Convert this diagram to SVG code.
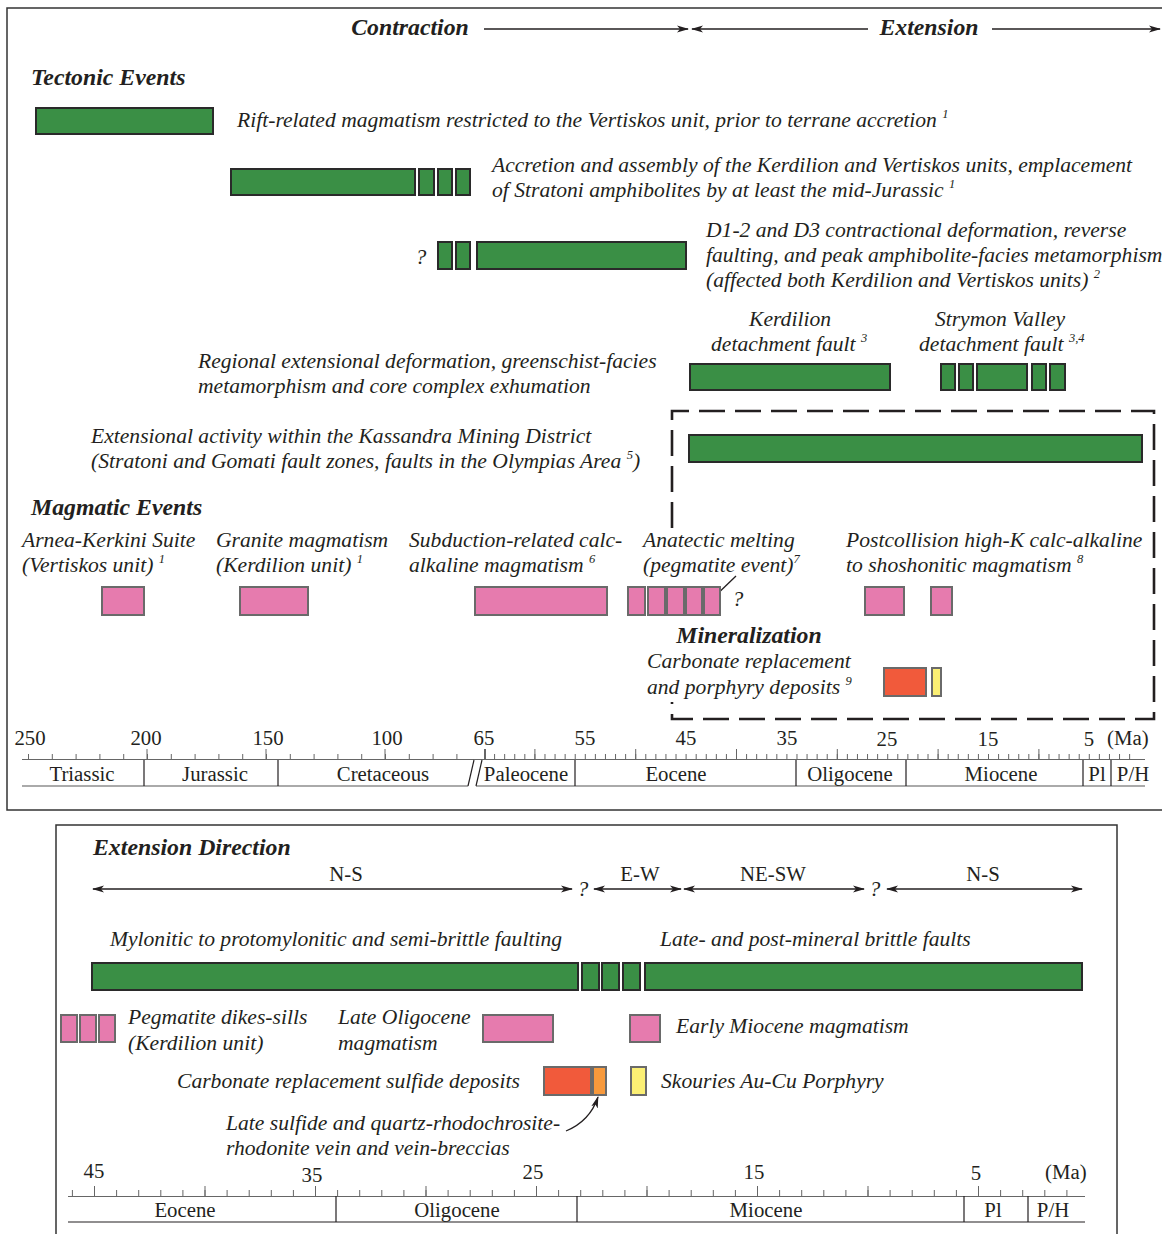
<svg xmlns="http://www.w3.org/2000/svg" width="1162" height="1234" viewBox="0 0 1162 1234">
<style>
text{font-family:"Liberation Serif","Times New Roman",serif;fill:#231f20}
.t{font-style:italic;font-size:21.6px}
.h{font-style:italic;font-weight:bold;font-size:23.8px}
.a{font-size:20.8px}
.m{text-anchor:middle}
.sup{font-size:12.5px}
.g{fill:#3a8f45;stroke:#2a2a2a;stroke-width:2}
.p{fill:#e67bae;stroke:#6a6a6a;stroke-width:2}
.r{fill:#f15a3b;stroke:#6a6a6a;stroke-width:2}
.y{fill:#fbef74;stroke:#6a6a6a;stroke-width:2}
.o{fill:#f7993c;stroke:#6a6a6a;stroke-width:2}
.frame{fill:none;stroke:#333;stroke-width:1.5}
.ln{stroke:#231f20;stroke-width:1.3;fill:none}
.div{stroke:#231f20;stroke-width:1.2}
.base{stroke:#aaa;stroke-width:2}
.tk{stroke:#666;fill:none}
.dash{fill:none;stroke:#231f20;stroke-width:2.6;stroke-dasharray:26 10}
</style>
<defs>
<marker id="ah" viewBox="0 0 12 8" markerWidth="12" markerHeight="8" refX="11" refY="4" orient="auto-start-reverse" markerUnits="userSpaceOnUse">
<path d="M0,0.6 L12,4 L0,7.4 L3,4 z" fill="#231f20"/>
</marker>
</defs>

<rect class="frame" x="7" y="8" width="1170" height="802"/>
<rect class="frame" x="56" y="825" width="1061" height="430"/>

<g id="connectors">
<line class="ln" x1="484" y1="29" x2="688" y2="29" marker-end="url(#ah)"/>
<line class="ln" x1="868" y1="29" x2="692" y2="29" marker-end="url(#ah)"/>
<line class="ln" x1="992" y1="29" x2="1160" y2="29" marker-end="url(#ah)"/>
<line class="ln" x1="736" y1="576" x2="711" y2="600" marker-end="url(#ah)"/>
<line class="ln" x1="93" y1="889" x2="572" y2="889" marker-start="url(#ah)" marker-end="url(#ah)"/>
<line class="ln" x1="594" y1="889" x2="681" y2="889" marker-start="url(#ah)" marker-end="url(#ah)"/>
<line class="ln" x1="684" y1="889" x2="864" y2="889" marker-start="url(#ah)" marker-end="url(#ah)"/>
<line class="ln" x1="887" y1="889" x2="1082" y2="889" marker-start="url(#ah)" marker-end="url(#ah)"/>
<path class="ln" d="M566 1131 Q590 1121 598 1097" marker-end="url(#ah)"/>
</g>

<g id="headers">
<text class="h" x="410" y="35" text-anchor="middle">Contraction</text>
<text class="h" x="929" y="35" text-anchor="middle">Extension</text>
<text class="h" x="31" y="85">Tectonic Events</text>
<text class="h" x="31" y="515">Magmatic Events</text>
<text class="h" x="749" y="643" text-anchor="middle">Mineralization</text>
<text class="h" x="93" y="855">Extension Direction</text>
</g>

<g id="rift">
<rect class="g" x="36" y="108" width="177" height="26"/>
<text class="t" x="237" y="127">Rift-related magmatism restricted to the Vertiskos unit, prior to terrane accretion <tspan class="sup" dy="-9">1</tspan></text>
</g>

<g id="accretion">
<rect class="g" x="231" y="169" width="184" height="26"/>
<rect class="g" x="419" y="169" width="15" height="26"/>
<rect class="g" x="438" y="169" width="14" height="26"/>
<rect class="g" x="456" y="169" width="14" height="26"/>
<text class="t" x="492" y="172">Accretion and assembly of the Kerdilion and Vertiskos units, emplacement</text>
<text class="t" x="492" y="197">of Stratoni amphibolites by at least the mid-Jurassic <tspan class="sup" dy="-9">1</tspan></text>
</g>

<g id="contraction-deformation">
<text class="t" x="421" y="264" text-anchor="middle">?</text>
<rect class="g" x="438" y="242" width="14" height="27"/>
<rect class="g" x="456" y="242" width="14" height="27"/>
<rect class="g" x="477" y="242" width="209" height="27"/>
<text class="t" x="706" y="237">D1-2 and D3 contractional deformation, reverse</text>
<text class="t" x="706" y="262">faulting, and peak amphibolite-facies metamorphism</text>
<text class="t" x="706" y="287">(affected both Kerdilion and Vertiskos units) <tspan class="sup" dy="-9">2</tspan></text>
</g>

<g id="regional-extension">
<text class="t" x="198" y="368">Regional extensional deformation, greenschist-facies</text>
<text class="t" x="198" y="393">metamorphism and core complex exhumation</text>
</g>

<g id="kerdilion-detachment">
<text class="t" x="790" y="326" text-anchor="middle">Kerdilion</text>
<text class="t" x="711" y="351">detachment fault <tspan class="sup" dy="-9">3</tspan></text>
<rect class="g" x="690" y="364" width="200" height="26"/>
</g>

<g id="strymon-detachment">
<text class="t" x="1000" y="326" text-anchor="middle">Strymon Valley</text>
<text class="t" x="919" y="351">detachment fault <tspan class="sup" dy="-9">3,4</tspan></text>
<rect class="g" x="941" y="364" width="14" height="26"/>
<rect class="g" x="959" y="364" width="14" height="26"/>
<rect class="g" x="977" y="364" width="50" height="26"/>
<rect class="g" x="1032" y="364" width="14" height="26"/>
<rect class="g" x="1050" y="364" width="15" height="26"/>
</g>

<g id="kassandra">
<text class="t" x="91" y="443">Extensional activity within the Kassandra Mining District</text>
<text class="t" x="91" y="468">(Stratoni and Gomati fault zones, faults in the Olympias Area <tspan class="sup" dy="-9">5</tspan><tspan dy="9">)</tspan></text>
<rect class="g" x="689" y="435" width="453" height="27"/>
</g>

<path id="kassandra-box" class="dash" d="M672 528 V411 H1154 V719 H672 V702"/>

<g id="arnea">
<text class="t" x="22" y="547">Arnea-Kerkini Suite</text>
<text class="t" x="22" y="572">(Vertiskos unit) <tspan class="sup" dy="-9">1</tspan></text>
<rect class="p" x="102" y="587" width="42" height="28"/>
</g>

<g id="granite">
<text class="t" x="216" y="547">Granite magmatism</text>
<text class="t" x="216" y="572">(Kerdilion unit) <tspan class="sup" dy="-9">1</tspan></text>
<rect class="p" x="240" y="587" width="68" height="28"/>
</g>

<g id="subduction">
<text class="t" x="409" y="547">Subduction-related calc-</text>
<text class="t" x="409" y="572">alkaline magmatism <tspan class="sup" dy="-9">6</tspan></text>
<rect class="p" x="475" y="587" width="132" height="28"/>
</g>

<g id="anatectic">
<text class="t" x="643" y="547">Anatectic melting</text>
<text class="t" x="643" y="572">(pegmatite event)<tspan class="sup" dy="-9">7</tspan></text>
<rect class="p" x="628" y="587" width="17" height="28"/>
<rect class="p" x="648" y="587" width="17" height="28"/>
<rect class="p" x="667" y="587" width="17" height="28"/>
<rect class="p" x="686" y="587" width="16" height="28"/>
<rect class="p" x="704" y="587" width="16" height="28"/>
<text class="t" x="738" y="606" text-anchor="middle">?</text>
</g>

<g id="postcollision">
<text class="t" x="846" y="547">Postcollision high-K calc-alkaline</text>
<text class="t" x="846" y="572">to shoshonitic magmatism <tspan class="sup" dy="-9">8</tspan></text>
<rect class="p" x="865" y="587" width="39" height="28"/>
<rect class="p" x="931" y="587" width="21" height="28"/>
</g>

<g id="mineralization">
<text class="t" x="647" y="668">Carbonate replacement</text>
<text class="t" x="647" y="694">and porphyry deposits <tspan class="sup" dy="-9">9</tspan></text>
<rect class="r" x="884" y="668" width="42" height="28"/>
<rect class="y" x="932" y="668" width="9" height="28"/>
</g>

<g id="top-axis">
<text class="a m" x="30" y="745">250</text>
<text class="a m" x="146" y="745">200</text>
<text class="a m" x="268" y="745">150</text>
<text class="a m" x="387" y="745">100</text>
<text class="a m" x="484" y="745">65</text>
<text class="a m" x="585" y="745">55</text>
<text class="a m" x="686" y="745">45</text>
<text class="a m" x="787" y="745">35</text>
<text class="a m" x="887" y="746">25</text>
<text class="a m" x="988" y="746">15</text>
<text class="a m" x="1089" y="746">5</text>
<text class="a" x="1107" y="745">(Ma)</text>
<line class="tk" x1="22" y1="759.5" x2="1145" y2="759.5" stroke-width="1"/>
<line class="tk" x1="28" y1="756.5" x2="462" y2="756.5" stroke-width="5" stroke-dasharray="1 22.8"/>
<line class="tk" x1="146.5" y1="754" x2="400" y2="754" stroke-width="10" stroke-dasharray="1 118"/>
<line class="tk" x1="484" y1="756.5" x2="1135" y2="756.5" stroke-width="5" stroke-dasharray="1 9.08"/>
<line class="tk" x1="484" y1="754" x2="486" y2="754" stroke-width="10"/>
<line class="tk" x1="534.4" y1="754" x2="1045" y2="754" stroke-width="10" stroke-dasharray="1 99.8"/>
<line class="base" x1="22" y1="786" x2="468" y2="786"/>
<line class="base" x1="476" y1="786" x2="1145" y2="786"/>
<line class="div" x1="468" y1="786" x2="474" y2="760"/>
<line class="div" x1="476" y1="786" x2="482" y2="760"/>
<line class="div" x1="144" y1="760" x2="144" y2="786"/>
<line class="div" x1="278" y1="760" x2="278" y2="786"/>
<line class="div" x1="575" y1="760" x2="575" y2="786"/>
<line class="div" x1="796" y1="760" x2="796" y2="786"/>
<line class="div" x1="906" y1="760" x2="906" y2="786"/>
<line class="div" x1="1083" y1="760" x2="1083" y2="786"/>
<line class="div" x1="1111" y1="760" x2="1111" y2="786"/>
<text class="a m" x="82" y="781">Triassic</text>
<text class="a m" x="215" y="781">Jurassic</text>
<text class="a m" x="383" y="781">Cretaceous</text>
<text class="a m" x="526" y="781">Paleocene</text>
<text class="a m" x="676" y="781">Eocene</text>
<text class="a m" x="850" y="781">Oligocene</text>
<text class="a m" x="1001" y="781">Miocene</text>
<text class="a m" x="1097" y="781">Pl</text>
<text class="a m" x="1133" y="781">P/H</text>
</g>

<g id="extension-directions">
<text class="a m" x="346" y="881">N-S</text>
<text class="t m" x="583" y="896">?</text>
<text class="a m" x="640" y="881">E-W</text>
<text class="a m" x="773" y="881">NE-SW</text>
<text class="t m" x="875" y="896">?</text>
<text class="a m" x="983" y="881">N-S</text>
</g>

<g id="faulting">
<text class="t" x="110" y="946">Mylonitic to protomylonitic and semi-brittle faulting</text>
<text class="t" x="660" y="946">Late- and post-mineral brittle faults</text>
<rect class="g" x="92" y="963" width="486" height="27"/>
<rect class="g" x="582" y="963" width="17" height="27"/>
<rect class="g" x="602" y="963" width="17" height="27"/>
<rect class="g" x="623" y="963" width="17" height="27"/>
<rect class="g" x="645" y="963" width="437" height="27"/>
</g>

<g id="pegmatite">
<rect class="p" x="61" y="1015" width="16" height="27"/>
<rect class="p" x="80" y="1015" width="16" height="27"/>
<rect class="p" x="99" y="1015" width="16" height="27"/>
<text class="t" x="128" y="1024">Pegmatite dikes-sills</text>
<text class="t" x="128" y="1050">(Kerdilion unit)</text>
</g>

<g id="late-oligocene">
<text class="t" x="338" y="1024">Late Oligocene</text>
<text class="t" x="338" y="1050">magmatism</text>
<rect class="p" x="483" y="1015" width="70" height="27"/>
</g>

<g id="early-miocene">
<rect class="p" x="630" y="1015" width="30" height="27"/>
<text class="t" x="676" y="1033">Early Miocene magmatism</text>
</g>

<g id="carbonate-replacement">
<text class="t" x="177" y="1088">Carbonate replacement sulfide deposits</text>
<rect class="r" x="544" y="1067" width="47" height="28"/>
<rect class="o" x="593" y="1067" width="13" height="28"/>
</g>

<g id="skouries">
<rect class="y" x="631" y="1067" width="15" height="28"/>
<text class="t" x="661" y="1088">Skouries Au-Cu Porphyry</text>
</g>

<g id="late-sulfide">
<text class="t" x="226" y="1130">Late sulfide and quartz-rhodochrosite-</text>
<text class="t" x="226" y="1155">rhodonite vein and vein-breccias</text>
</g>

<g id="bottom-axis">
<text class="a m" x="94" y="1178">45</text>
<text class="a m" x="312" y="1182">35</text>
<text class="a m" x="533" y="1179">25</text>
<text class="a m" x="754" y="1179">15</text>
<text class="a m" x="976" y="1180">5</text>
<text class="a" x="1045" y="1179">(Ma)</text>
<line class="tk" x1="68" y1="1196.5" x2="1085" y2="1196.5" stroke-width="1"/>
<line class="tk" x1="71.9" y1="1193" x2="1085" y2="1193" stroke-width="6" stroke-dasharray="1 21.1"/>
<line class="tk" x1="94" y1="1191" x2="1085" y2="1191" stroke-width="10" stroke-dasharray="1 109.5"/>
<line class="div" x1="336" y1="1196" x2="336" y2="1222"/>
<line class="div" x1="577" y1="1196" x2="577" y2="1222"/>
<line class="div" x1="964" y1="1196" x2="964" y2="1222"/>
<line class="div" x1="1028" y1="1196" x2="1028" y2="1222"/>
<line class="div" x1="68" y1="1222" x2="1085" y2="1222" stroke="#555"/>
<text class="a m" x="185" y="1217">Eocene</text>
<text class="a m" x="457" y="1217">Oligocene</text>
<text class="a m" x="766" y="1217">Miocene</text>
<text class="a m" x="993" y="1217">Pl</text>
<text class="a m" x="1053" y="1217">P/H</text>
</g>
</svg>
